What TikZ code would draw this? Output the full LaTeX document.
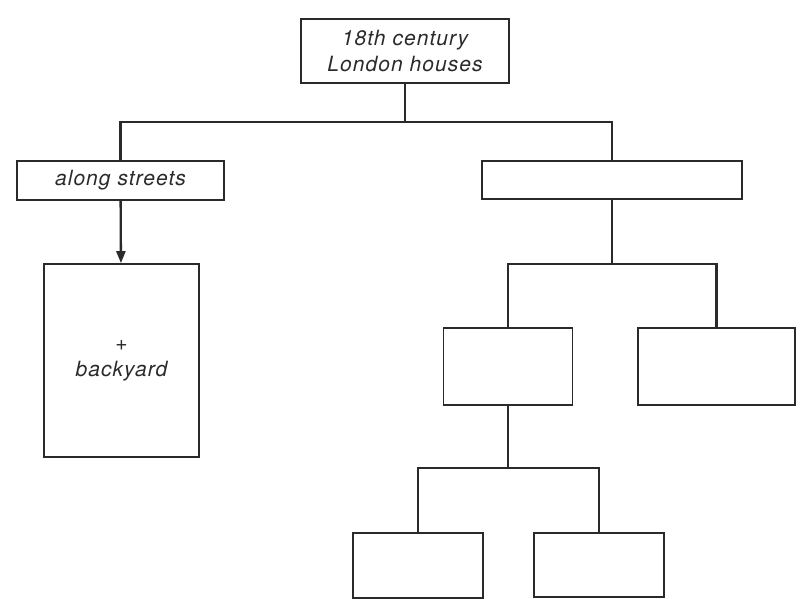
\documentclass[tikz,border=0pt]{standalone}
\usepackage{fontspec}
\setmainfont{TeX Gyre Heros}[LetterSpace=5]
\usetikzlibrary{arrows.meta}
\definecolor{ink}{HTML}{2A2A2A}
\tikzset{
  box/.style={draw=ink, line width=1.7pt, minimum width=#1, inner sep=0pt, align=center,
    font=\fontsize{21}{26}\selectfont\itshape, text=ink},
  link/.style={draw=ink, line width=2.3pt}
}
\begin{document}
\begin{tikzpicture}[x=1pt,y=-1pt]
                \useasboundingbox (0,0) rectangle (801,599);
                % top of the tree
                \node[box=208pt, minimum height=64pt] (houses) at (405,51) {18th century\\London houses};
                \node[box=207pt, minimum height=39pt] (streets) at (120.5,180.5) {along streets};
                \node[box=260pt, minimum height=38pt] (other) at (612,180) {};
                \node[box=155pt, minimum height=193pt] (yard) at (121.5,360.5) {+\\backyard};
                % right branch
                \node[box=129pt, minimum height=77pt] (midL) at (508,366.5) {};
                \node[box=157pt, minimum height=77pt] (midR) at (716.5,366.5) {};
                \node[box=130pt, minimum height=65pt] (botL) at (418,565.5) {};
                \node[box=130pt, minimum height=64pt] (botR) at (599,565) {};
                % junctions
                \coordinate (j1) at (405,122);
                \coordinate (j2) at (612,264);
                \coordinate (j3) at (508,468);
                \draw[link] (houses) -- (j1);
                \draw[link] (streets.north) |- (j1) -| (other.north);
                \draw[link,-{Triangle[length=12pt,width=9pt]}] (streets) -- (yard);
                \draw[link] (other) -- (j2);
                \draw[link] (midL.north) |- (j2) -| (midR.north);
                \draw[link] (midL) -- (j3);
                \draw[link] (botL.north) |- (j3) -| (botR.north);
            \end{tikzpicture}
\end{document}
